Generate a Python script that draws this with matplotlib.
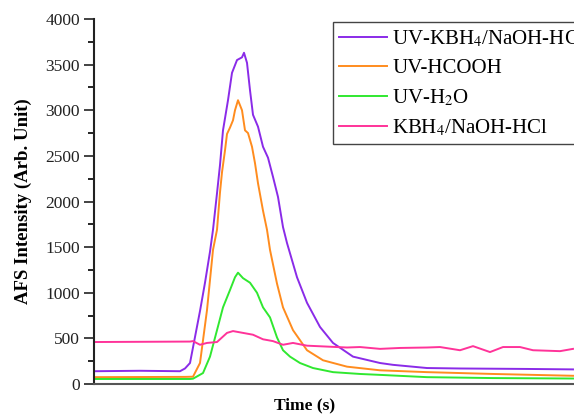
import matplotlib
matplotlib.use("agg")
import matplotlib.pyplot as plt
from matplotlib.ticker import MultipleLocator

# traced curves (time in arbitrary units, intensity in Arb. Unit)
t_uv_kbh4 = [0, 46, 86, 91, 96, 101, 106, 111, 116, 119, 123, 126, 129, 134, 138, 143, 148, 150, 153,
             156, 159, 164, 169, 174, 179, 184, 189, 193, 203, 213, 226, 239, 259, 286, 299, 333, 366, 433, 479]
i_uv_kbh4 = [140, 145, 140, 170, 230, 515, 800, 1110, 1450, 1690, 2090, 2400, 2780, 3110, 3410, 3550, 3580, 3630, 3520,
             3220, 2950, 2820, 2600, 2480, 2270, 2050, 1720, 1545, 1170, 890, 625, 450, 300, 230, 210, 175, 170, 165, 160]

t_uv_hcooh = [0, 91, 99, 106, 113, 119, 123, 126, 128, 131, 133, 136, 139, 141, 144, 148, 151, 154, 158, 161,
              164, 169, 173, 176, 183, 189, 199, 213, 229, 253, 286, 333, 399, 479]
i_uv_hcooh = [75, 78, 80, 230, 810, 1470, 1690, 2100, 2320, 2560, 2740, 2810, 2890, 3000, 3110, 3000, 2780, 2750, 2600, 2420,
              2200, 1900, 1690, 1470, 1100, 840, 590, 370, 260, 190, 150, 130, 110, 90]

t_uv_h2o = [0, 96, 99, 109, 116, 123, 129, 136, 141, 144, 149, 156, 163, 169, 176, 183, 189, 196, 206, 219,
            239, 266, 286, 333, 399, 479]
i_uv_h2o = [55, 55, 58, 120, 300, 590, 840, 1030, 1170, 1220, 1160, 1110, 1000, 840, 730, 510, 370, 300, 230, 175,
            130, 110, 100, 75, 65, 60]

t_kbh4 = [0, 96, 99, 106, 113, 123, 133, 139, 149, 159, 169, 179, 189, 199, 213, 233, 253, 266, 286, 306,
          333, 346, 366, 379, 396, 409, 426, 439, 466, 479]
i_kbh4 = [460, 465, 470, 430, 450, 460, 560, 580, 560, 540, 490, 470, 430, 450, 420, 410, 400, 405, 385, 395,
          400, 405, 370, 415, 350, 405, 405, 370, 360, 385]

labels = ['UV-KBH$_4$/NaOH-HCl', 'UV-HCOOH', 'UV-H$_2$O', 'KBH$_4$/NaOH-HCl']
colors = ['#8a2be8', '#ff8c1e', '#30e830', '#ff3399']

plt.rcParams['font.family'] = 'Liberation Serif'
plt.rcParams['mathtext.fontset'] = 'stix'

fig = plt.figure(figsize=(5.74, 4.16), dpi=100)
ax = fig.add_axes([94/574, 1-384/416, 1-94/574, 365/416])

ax.plot(t_uv_kbh4, i_uv_kbh4, color=colors[0], lw=1.4, label=labels[0])
ax.plot(t_uv_hcooh, i_uv_hcooh, color=colors[1], lw=1.4, label=labels[1])
ax.plot(t_uv_h2o, i_uv_h2o, color=colors[2], lw=1.4, label=labels[2])
ax.plot(t_kbh4, i_kbh4, color=colors[3], lw=1.4, label=labels[3])

ax.set_xlim(0, 480)
ax.set_ylim(0, 4000)
ax.yaxis.set_major_locator(MultipleLocator(500))
ax.yaxis.set_minor_locator(MultipleLocator(250))
ax.tick_params(axis='y', which='major', direction='out', length=7, width=1.2, labelsize=12.5, pad=3, colors='#222222')
ax.tick_params(axis='y', which='minor', direction='out', length=4, width=1.2)
ax.set_xticks([])
for s in ['top', 'right']:
    ax.spines[s].set_visible(False)
ax.spines['left'].set_linewidth(1.5)
ax.spines['left'].set_color('#222222')
ax.spines['bottom'].set_linewidth(1.5)
ax.spines['bottom'].set_color('#555555')

ax.set_ylabel('AFS Intensity (Arb. Unit)', fontsize=13.5, fontweight='bold')
ax.yaxis.set_label_coords(-0.13, 0.5)
ax.set_xlabel('Time (s)', fontsize=12.5, fontweight='bold')
ax.xaxis.set_label_coords((305-94)/480, -0.036)

leg = ax.legend(loc='upper left', bbox_to_anchor=(333/574, 1-22/416), bbox_transform=fig.transFigure,
                fontsize=15, frameon=True, fancybox=False, framealpha=1, edgecolor='#444444',
                handlelength=2.3, handletextpad=0.25, borderpad=0.3, labelspacing=0.45, borderaxespad=0)
leg.get_frame().set_linewidth(1.0)

plt.savefig('out.png', dpi=100)
plt.close()
